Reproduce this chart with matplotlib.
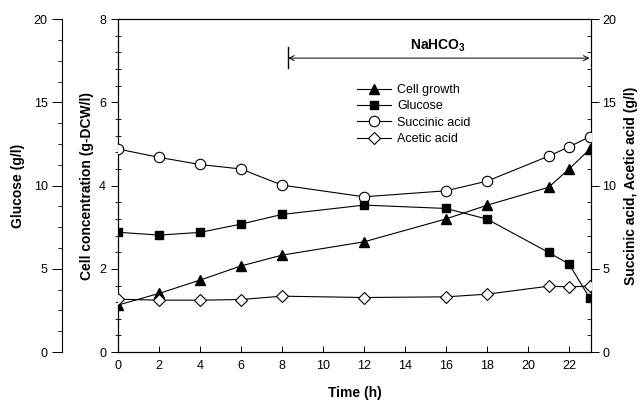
import matplotlib
matplotlib.use('Agg')
import matplotlib.pyplot as plt
from matplotlib.ticker import MultipleLocator
from matplotlib.lines import Line2D

plt.rcParams['font.family'] = ['Liberation Sans', 'DejaVu Sans']
plt.rcParams['mathtext.fontset'] = 'custom'
plt.rcParams['mathtext.rm'] = 'Liberation Sans'
plt.rcParams['mathtext.bf'] = 'Liberation Sans:bold'

# data
time_h = [0, 2, 4, 6, 8, 12, 16, 18, 21, 22, 23]
cell_growth = [1.13, 1.41, 1.73, 2.07, 2.33, 2.65, 3.20, 3.53, 3.96, 4.40, 4.87]
glucose = [7.2, 7.03, 7.19, 7.69, 8.27, 8.83, 8.63, 7.99, 5.99, 5.29, 3.26]
succinic = [12.2, 11.7, 11.27, 11.0, 10.03, 9.33, 9.69, 10.27, 11.77, 12.33, 12.93]
acetic = [3.18, 3.12, 3.12, 3.16, 3.36, 3.28, 3.32, 3.48, 3.96, 3.92, 3.96]

nahco3_start = 8.3
nahco3_end = 23.0

fig = plt.figure(figsize=(6.43, 4.08), dpi=100)
ax = fig.add_axes([0.1835, 0.137, 0.7356, 0.816])
ax_r = ax.twinx()
ax_g = ax.twinx()

lw = 0.8
# cell growth on the inner left axis
ax.plot(time_h, cell_growth, '-', color='black', lw=lw, marker='^', ms=6.5,
        mfc='black', mec='black', zorder=3)
# succinic / acetic on the right axis
ax_r.plot(time_h, succinic, '-', color='black', lw=lw, marker='o', ms=7.5,
          mfc='white', mec='black', mew=0.8, zorder=3)
ax_r.plot(time_h, acetic, '-', color='black', lw=lw, marker='D', ms=6,
          mfc='white', mec='black', mew=0.8, zorder=3)
# glucose on the outer left axis
ax_g.plot(time_h, glucose, '-', color='black', lw=lw, marker='s', ms=5.8,
          mfc='black', mec='black', zorder=3)

# axes limits / ticks
ax.set_xlim(0, 23.07)
ax.set_ylim(0, 8)
ax_r.set_ylim(0, 20)
ax_g.set_ylim(0, 20)

ax.xaxis.set_major_locator(MultipleLocator(2))
ax.tick_params(axis='x', direction='in', length=4, width=0.7, labelsize=9, pad=6)

ax.yaxis.set_major_locator(MultipleLocator(2))
ax.yaxis.set_minor_locator(MultipleLocator(0.4))
ax.tick_params(axis='y', which='major', direction='out', length=5, width=0.7, labelsize=9)
ax.tick_params(axis='y', which='minor', direction='inout', length=4, width=0.6)

ax_r.yaxis.set_major_locator(MultipleLocator(5))
ax_r.yaxis.set_minor_locator(MultipleLocator(1))
ax_r.tick_params(axis='y', which='major', direction='out', length=6, width=0.7, labelsize=9, pad=2)
ax_r.tick_params(axis='y', which='minor', direction='in', length=3, width=0.6)

ax_g.spines['left'].set_position(('axes', -0.118))
ax_g.spines['left'].set_visible(True)
ax_g.spines['right'].set_visible(False)
ax_g.spines['top'].set_visible(False)
ax_g.spines['bottom'].set_visible(False)
ax_g.yaxis.set_ticks_position('left')
ax_g.yaxis.set_label_position('left')
ax_g.yaxis.set_major_locator(MultipleLocator(5))
ax_g.yaxis.set_minor_locator(MultipleLocator(1.25))
ax_g.tick_params(axis='y', which='major', direction='out', length=7, width=0.7, labelsize=9)
ax_g.tick_params(axis='y', which='minor', direction='out', length=3, width=0.6)

for a in (ax, ax_r, ax_g):
    for s in a.spines.values():
        s.set_linewidth(0.8)

ax.set_xlabel('Time (h)', fontsize=10, fontweight='bold', labelpad=10)
ax.set_ylabel('Cell concentration (g-DCW/l)', fontsize=10, fontweight='bold', labelpad=4)
ax_g.set_ylabel('Glucose (g/l)', fontsize=10, fontweight='bold', labelpad=6)
ax_r.set_ylabel('Succinic acid, Acetic acid (g/l)', fontsize=10, fontweight='bold',
                rotation=90, labelpad=6)

# NaHCO3 feeding period
ax_r.annotate('', xy=(nahco3_start, 17.66), xytext=(nahco3_end, 17.66),
              arrowprops=dict(arrowstyle='<->', lw=0.7, color='black',
                              shrinkA=0, shrinkB=0, mutation_scale=9))
ax_r.plot([nahco3_start, nahco3_start], [17.06, 18.3], color='black', lw=1.0)
ax_r.text(15.6, 17.9, r'$\mathbf{NaHCO_3}$', ha='center', va='bottom', fontsize=10)

handles = [
    Line2D([], [], color='black', lw=lw, marker='^', ms=6.5, mfc='black'),
    Line2D([], [], color='black', lw=lw, marker='s', ms=5.8, mfc='black'),
    Line2D([], [], color='black', lw=lw, marker='o', ms=7.5, mfc='white', mew=0.8),
    Line2D([], [], color='black', lw=lw, marker='D', ms=6, mfc='white', mew=0.8),
]
labels = ['Cell growth', 'Glucose', 'Succinic acid', 'Acetic acid']
fig.legend(handles, labels, loc='upper left', bbox_to_anchor=(357 / 643, 1 - 84 / 408),
           frameon=False, fontsize=9, handlelength=2.7, handletextpad=0.5,
           labelspacing=0.35, borderpad=0, borderaxespad=0)

fig.savefig('out.png', dpi=100)
